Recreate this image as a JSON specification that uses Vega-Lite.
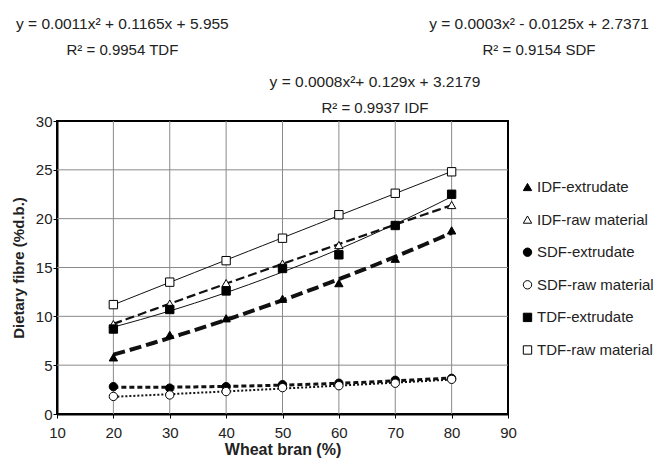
{
  "$schema": "https://vega.github.io/schema/vega-lite/v6.json",
  "width": 451,
  "height": 293,
  "autosize": {"type": "none"},
  "padding": {"left": 57, "top": 121, "right": 146, "bottom": 51},
  "background": "white",
  "config": {
    "font": "Liberation Sans",
    "view": {"stroke": "black", "strokeWidth": 2},
    "axis": {
      "grid": false,
      "domainColor": "black",
      "domainWidth": 2,
      "tickColor": "black",
      "tickSize": 4,
      "tickWidth": 1,
      "labelFont": "Liberation Sans",
      "labelFontSize": 15,
      "labelColor": "#222",
      "titleFont": "Liberation Sans",
      "titleFontSize": 15,
      "titleFontWeight": "bold",
      "titleColor": "#222"
    },
    "legend": {
      "labelFont": "Liberation Sans",
      "labelFontSize": 15,
      "labelColor": "#222"
    }
  },
  "datasets": {
    "fibre": [
      {"series": "IDF-extrudate", "bran": 20, "value": 5.8},
      {"series": "IDF-extrudate", "bran": 30, "value": 8.1},
      {"series": "IDF-extrudate", "bran": 40, "value": 9.8},
      {"series": "IDF-extrudate", "bran": 50, "value": 11.8},
      {"series": "IDF-extrudate", "bran": 60, "value": 13.4},
      {"series": "IDF-extrudate", "bran": 70, "value": 15.9},
      {"series": "IDF-extrudate", "bran": 80, "value": 18.8},
      {"series": "IDF-raw material", "bran": 20, "value": 9.2},
      {"series": "IDF-raw material", "bran": 30, "value": 11.3},
      {"series": "IDF-raw material", "bran": 40, "value": 13.4},
      {"series": "IDF-raw material", "bran": 50, "value": 15.4},
      {"series": "IDF-raw material", "bran": 60, "value": 17.3},
      {"series": "IDF-raw material", "bran": 70, "value": 19.4},
      {"series": "IDF-raw material", "bran": 80, "value": 21.4},
      {"series": "SDF-extrudate", "bran": 20, "value": 2.8},
      {"series": "SDF-extrudate", "bran": 30, "value": 2.65},
      {"series": "SDF-extrudate", "bran": 40, "value": 2.8},
      {"series": "SDF-extrudate", "bran": 50, "value": 3.0},
      {"series": "SDF-extrudate", "bran": 60, "value": 3.15},
      {"series": "SDF-extrudate", "bran": 70, "value": 3.45},
      {"series": "SDF-extrudate", "bran": 80, "value": 3.65},
      {"series": "SDF-raw material", "bran": 20, "value": 1.8},
      {"series": "SDF-raw material", "bran": 30, "value": 1.95},
      {"series": "SDF-raw material", "bran": 40, "value": 2.3},
      {"series": "SDF-raw material", "bran": 50, "value": 2.7},
      {"series": "SDF-raw material", "bran": 60, "value": 2.9},
      {"series": "SDF-raw material", "bran": 70, "value": 3.15},
      {"series": "SDF-raw material", "bran": 80, "value": 3.55},
      {"series": "TDF-extrudate", "bran": 20, "value": 8.7},
      {"series": "TDF-extrudate", "bran": 30, "value": 10.7},
      {"series": "TDF-extrudate", "bran": 40, "value": 12.6},
      {"series": "TDF-extrudate", "bran": 50, "value": 14.9},
      {"series": "TDF-extrudate", "bran": 60, "value": 16.3},
      {"series": "TDF-extrudate", "bran": 70, "value": 19.3},
      {"series": "TDF-extrudate", "bran": 80, "value": 22.5},
      {"series": "TDF-raw material", "bran": 20, "value": 11.2},
      {"series": "TDF-raw material", "bran": 30, "value": 13.5},
      {"series": "TDF-raw material", "bran": 40, "value": 15.7},
      {"series": "TDF-raw material", "bran": 50, "value": 18.0},
      {"series": "TDF-raw material", "bran": 60, "value": 20.4},
      {"series": "TDF-raw material", "bran": 70, "value": 22.6},
      {"series": "TDF-raw material", "bran": 80, "value": 24.8}
    ],
    "xgrid": [{"bran": 20}, {"bran": 30}, {"bran": 40}, {"bran": 50}, {"bran": 60}, {"bran": 70}, {"bran": 80}],
    "ygrid": [{"value": 5}, {"value": 10}, {"value": 15}, {"value": 20}, {"value": 25}]
  },
  "data": {"name": "fibre"},
  "layer": [
    {
      "data": {"name": "xgrid"},
      "mark": {"type": "rule", "color": "#8a8a8a", "strokeWidth": 1},
      "encoding": {
        "x": {"field": "bran", "type": "quantitative"}
      }
    },
    {
      "data": {"name": "ygrid"},
      "mark": {"type": "rule", "color": "#8a8a8a", "strokeWidth": 1},
      "encoding": {
        "y": {"field": "value", "type": "quantitative"}
      }
    },
    {
      "transform": [
        {"filter": "datum.series === 'IDF-extrudate'"},
        {"regression": "value", "on": "bran", "method": "poly", "order": 2}
      ],
      "mark": {"type": "line", "color": "#111", "strokeWidth": 4, "strokeDash": [12, 5]},
      "encoding": {
        "x": {"field": "bran", "type": "quantitative"},
        "y": {"field": "value", "type": "quantitative"}
      }
    },
    {
      "transform": [
        {"filter": "datum.series === 'IDF-raw material'"},
        {"regression": "value", "on": "bran", "method": "poly", "order": 2}
      ],
      "mark": {"type": "line", "color": "#111", "strokeWidth": 2.2, "strokeDash": [9, 4]},
      "encoding": {
        "x": {"field": "bran", "type": "quantitative"},
        "y": {"field": "value", "type": "quantitative"}
      }
    },
    {
      "transform": [
        {"filter": "datum.series === 'SDF-extrudate'"},
        {"regression": "value", "on": "bran", "method": "poly", "order": 2}
      ],
      "mark": {"type": "line", "color": "#111", "strokeWidth": 3, "strokeDash": [5, 3]},
      "encoding": {
        "x": {"field": "bran", "type": "quantitative"},
        "y": {"field": "value", "type": "quantitative"}
      }
    },
    {
      "transform": [
        {"filter": "datum.series === 'SDF-raw material'"},
        {"regression": "value", "on": "bran", "method": "poly", "order": 2}
      ],
      "mark": {"type": "line", "color": "#111", "strokeWidth": 2, "strokeDash": [2, 2]},
      "encoding": {
        "x": {"field": "bran", "type": "quantitative"},
        "y": {"field": "value", "type": "quantitative"}
      }
    },
    {
      "transform": [
        {"filter": "datum.series === 'TDF-extrudate'"},
        {"regression": "value", "on": "bran", "method": "poly", "order": 2}
      ],
      "mark": {"type": "line", "color": "#111", "strokeWidth": 1},
      "encoding": {
        "x": {"field": "bran", "type": "quantitative"},
        "y": {"field": "value", "type": "quantitative"}
      }
    },
    {
      "transform": [
        {"filter": "datum.series === 'TDF-raw material'"},
        {"regression": "value", "on": "bran", "method": "poly", "order": 2}
      ],
      "mark": {"type": "line", "color": "#111", "strokeWidth": 1},
      "encoding": {
        "x": {"field": "bran", "type": "quantitative"},
        "y": {"field": "value", "type": "quantitative"}
      }
    },
    {
      "mark": {"type": "point", "stroke": "black", "strokeWidth": 1, "opacity": 1, "fillOpacity": 1},
      "encoding": {
        "x": {
          "field": "bran", "type": "quantitative",
          "scale": {"domain": [10, 90], "nice": false, "zero": false},
          "axis": {"values": [10, 20, 30, 40, 50, 60, 70, 80, 90], "grid": false, "title": "Wheat bran (%)", "titleFontSize": 16, "labelPadding": 7, "titlePadding": 1, "labelFlush": false}
        },
        "y": {
          "field": "value", "type": "quantitative",
          "scale": {"domain": [0, 30], "nice": false},
          "axis": {"values": [0, 5, 10, 15, 20, 25, 30], "grid": false, "title": "Dietary fibre (%d.b.)", "labelPadding": 1, "titlePadding": 9, "labelFlush": false}
        },
        "shape": {
          "field": "series", "type": "nominal",
          "scale": {
            "domain": ["IDF-extrudate", "IDF-raw material", "SDF-extrudate", "SDF-raw material", "TDF-extrudate", "TDF-raw material"],
            "range": ["triangle-up", "triangle-up", "circle", "circle", "square", "square"]
          },
          "legend": {
            "title": null, "orient": "none", "legendX": 463, "legendY": 58.5,
            "padding": 0, "rowPadding": 16.6, "labelOffset": 2,
            "symbolStrokeColor": "black", "symbolStrokeWidth": 1
          }
        },
        "fill": {
          "field": "series", "type": "nominal",
          "scale": {
            "domain": ["IDF-extrudate", "IDF-raw material", "SDF-extrudate", "SDF-raw material", "TDF-extrudate", "TDF-raw material"],
            "range": ["black", "white", "black", "white", "black", "white"]
          }
        },
        "size": {
          "field": "series", "type": "nominal",
          "scale": {
            "domain": ["IDF-extrudate", "IDF-raw material", "SDF-extrudate", "SDF-raw material", "TDF-extrudate", "TDF-raw material"],
            "range": [70, 70, 38, 38, 50, 50]
          }
        }
      }
    },
    {
      "data": {
        "values": [
          {"label": "y = 0.0011x² + 0.1165x + 5.955", "bran": 21.6, "value": 39.9},
          {"label": "y = 0.0003x² - 0.0125x + 2.7371", "bran": 95.5, "value": 39.9},
          {"label": "y = 0.0008x²+ 0.129x + 3.2179", "bran": 66.4, "value": 33.95}
        ]
      },
      "mark": {"type": "text", "font": "Liberation Sans", "fontSize": 15.5, "color": "#222", "align": "center", "baseline": "middle"},
      "encoding": {
        "x": {"field": "bran", "type": "quantitative"},
        "y": {"field": "value", "type": "quantitative"},
        "text": {"field": "label", "type": "nominal"}
      }
    },
    {
      "data": {
        "values": [
          {"label": "R² = 0.9954 TDF", "bran": 21.6, "value": 37.25},
          {"label": "R² = 0.9154 SDF", "bran": 95.5, "value": 37.25},
          {"label": "R² = 0.9937 IDF", "bran": 66.4, "value": 31.3}
        ]
      },
      "mark": {"type": "text", "font": "Liberation Sans", "fontSize": 15, "color": "#222", "align": "center", "baseline": "middle"},
      "encoding": {
        "x": {"field": "bran", "type": "quantitative"},
        "y": {"field": "value", "type": "quantitative"},
        "text": {"field": "label", "type": "nominal"}
      }
    }
  ]
}
